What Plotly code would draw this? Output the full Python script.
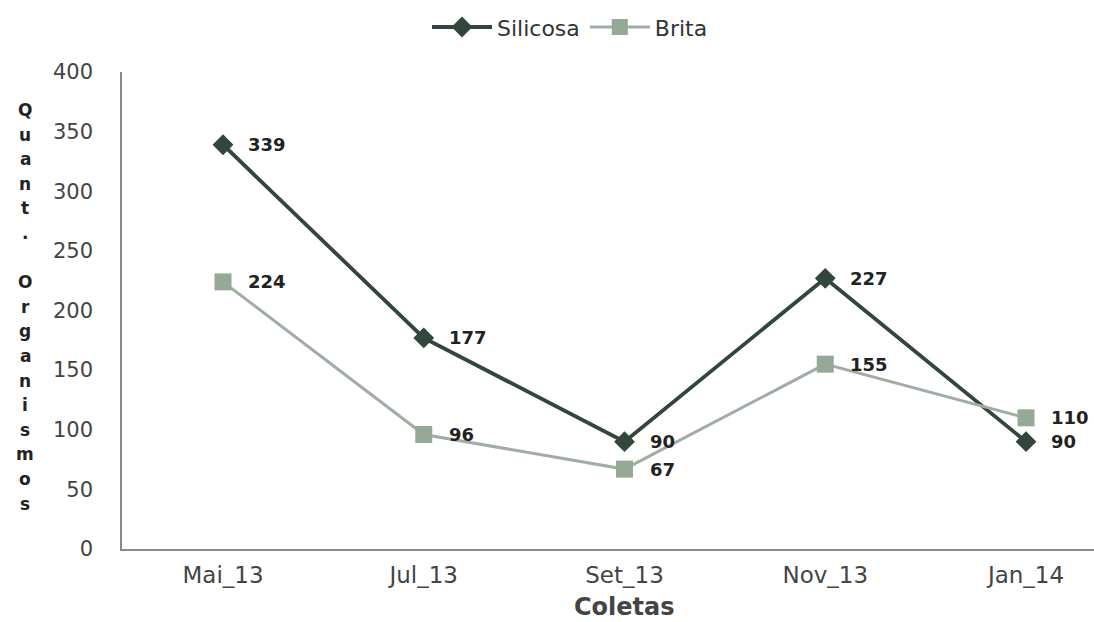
import plotly.graph_objects as go

categories = ["Mai_13", "Jul_13", "Set_13", "Nov_13", "Jan_14"]
silicosa = [339, 177, 90, 227, 90]
brita = [224, 96, 67, 155, 110]
y_ticks = [0, 50, 100, 150, 200, 250, 300, 350, 400]
y_title = "Quant. Organismos"
x_title = "Coletas"

W, H = 1094, 622
OFF = 0  # body margin removed via post_script
L, R, T, B = 122, 0, 72, 73
plot_h = H - T - B
plot_w = W - L - R

dark = "#33463b"
light = "#a2ada2"
sq_fill = "#96a896"

fig = go.Figure()
fig.add_trace(go.Scatter(
    x=categories, y=silicosa, name="Silicosa", mode="lines+markers",
    line=dict(color=dark, width=3.8),
    marker=dict(symbol="diamond", size=16, color=dark),
))
fig.add_trace(go.Scatter(
    x=categories, y=brita, name="Brita", mode="lines+markers",
    line=dict(color=light, width=3),
    marker=dict(symbol="square", size=17, color=sq_fill),
))

annotations = []
for series in (silicosa, brita):
    for c, v in zip(categories, series):
        annotations.append(dict(
            x=c, y=v, xref="x", yref="y", text=f"<b>{v}</b>", showarrow=False,
            xanchor="left", yanchor="middle", xshift=23,
            font=dict(family="DejaVu Sans", size=18, color="#222222"),
        ))

# vertical stacked y-axis title, one letter per line (space kept as blank line)
line_step = 24.6
top_px = 110
for i, ch in enumerate(y_title):
    if ch == " ":
        continue
    py = top_px + i * line_step
    annotations.append(dict(
        x=(25 - OFF - L) / plot_w, y=1 - (py - OFF - T) / plot_h,
        xref="paper", yref="paper",
        text=f"<b>{ch}</b>", showarrow=False, xanchor="center", yanchor="middle",
        font=dict(family="DejaVu Sans", size=17, color="#222222"),
    ))

# x axis title
annotations.append(dict(
    x=(624 - OFF - L) / plot_w, y=1 - (607 - OFF - T) / plot_h,
    xref="paper", yref="paper", text=f"<b>{x_title}</b>", showarrow=False,
    xanchor="center", yanchor="middle",
    font=dict(family="DejaVu Sans", size=24, color="#444444"),
))

sp = 200.75
x0 = -(223 - 122) / sp
x1 = (1094 - 223) / sp

fig.update_layout(
    width=W, height=H,
    margin=dict(l=L, r=R, t=T, b=B, pad=0),
    paper_bgcolor="white", plot_bgcolor="white",
    font=dict(family="DejaVu Sans", size=21, color="#444444"),
    showlegend=True,
    legend=dict(orientation="h", x=(570 - OFF - L) / plot_w, xanchor="center",
                y=0.99, yref="container", yanchor="top", itemwidth=60,
                font=dict(size=22, color="#333333"), tracegroupgap=0),
    xaxis=dict(
        type="category", range=[x0, x1], showgrid=False, showline=True,
        linecolor="#8a8a8a", linewidth=1.5, ticks="",
        tickfont=dict(size=23, color="#444444"), ticklabelstandoff=5,
        zeroline=False,
    ),
    yaxis=dict(
        range=[0, 400], tickvals=y_ticks, showgrid=False, showline=True,
        linecolor="#8a8a8a", linewidth=1.5, ticks="",
        tickfont=dict(size=21, color="#444444"),
        zeroline=False, ticklabelstandoff=23,
    ),
    annotations=annotations,
)

fig.write_html(
    "out.html",
    config={"displayModeBar": False},
    post_script="document.body.style.margin='0';document.body.style.overflow='hidden';",
)
